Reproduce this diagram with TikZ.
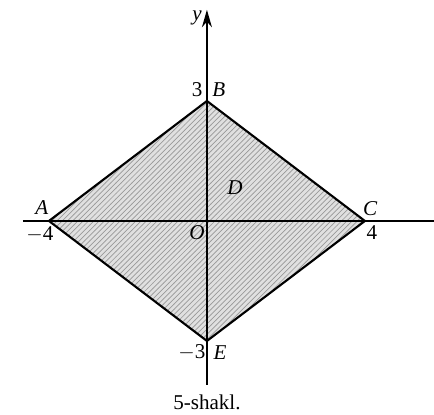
\documentclass[tikz,border=0pt]{standalone}
\usepackage{fontspec}
\setmainfont{Liberation Serif}
\usetikzlibrary{arrows.meta,patterns}

\begin{document}
\begin{tikzpicture}[x=0.79cm,y=0.8cm,font=\fontsize{12}{14}\selectfont,
  lbl/.style={inner sep=1pt},
  axis/.style={line width=0.9pt}]
  \useasboundingbox (-5.24,-4.85) rectangle (5.75,5.525);

  % points of the rhombus
  \coordinate (O) at (0,0);
  \coordinate (A) at (-4,0);
  \coordinate (B) at (0,3);
  \coordinate (C) at (4,0);
  \coordinate (E) at (0,-3);
  \coordinate (xl) at (-4.66,0);
  \coordinate (xr) at (6.2,0);
  \coordinate (yb) at (0,-4.1);
  \coordinate (yt) at (0,5.28);

  % shaded region
  \fill[black!12] (A) -- (B) -- (C) -- (E) -- cycle;
  \fill[pattern=north east lines, pattern color=black!40] (A) -- (B) -- (C) -- (E) -- cycle;

  % axes
  \draw[axis,-{Stealth[length=3.5mm,width=2mm]}] (xl) -- (xr);
  \draw[axis,-{Stealth[length=3.5mm,width=2mm]}] (yb) -- (yt);

  \draw[line width=1.2pt,line join=miter] (A) -- (B) -- (C) -- (E) -- cycle;

  % labels
  \node[lbl] (ylab) at (-0.25,5.08) {\itshape y};
  \node[lbl,anchor=west] (xlab) at (5.72,0.25) {\itshape x};
  \node[lbl] (n3) at (-0.25,3.28) {3};
  \node[lbl] (Blab) at (0.3,3.28) {\itshape B};
  \node[lbl] (Alab) at (-4.18,0.34) {\itshape A};
  \node[lbl] (m4) at (-4.23,-0.33) {$-$4};
  \node[lbl] (Clab) at (4.13,0.3) {\itshape C};
  \node[lbl] (p4) at (4.18,-0.3) {4};
  \node[lbl] (Olab) at (-0.25,-0.3) {\itshape O};
  \node[lbl] (Dlab) at (0.71,0.83) {\itshape D};
  \node[lbl] (m3) at (-0.38,-3.28) {$-$3};
  \node[lbl] (Elab) at (0.33,-3.28) {\itshape E};
  \node[lbl] (cap) at (0,-4.53) {5-shakl.};
\end{tikzpicture}
\end{document}
